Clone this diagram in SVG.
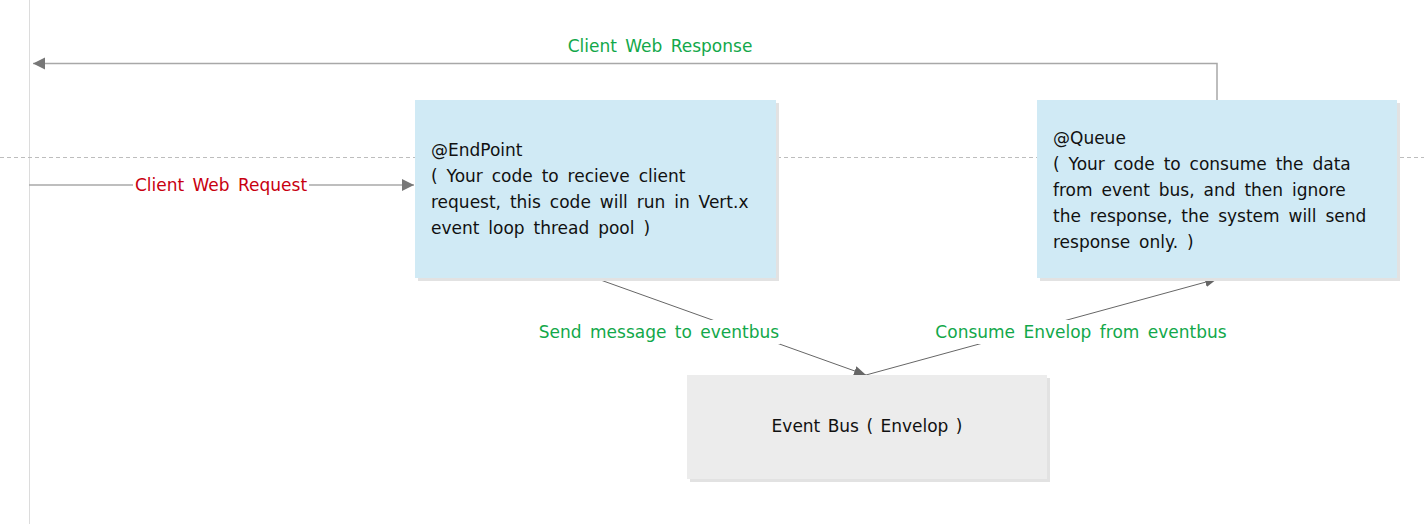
<svg xmlns="http://www.w3.org/2000/svg" width="1424" height="524" viewBox="0 0 1424 524">
<style>
.txt{font-family:"DejaVu Sans","Liberation Sans",sans-serif;font-size:17px;word-spacing:3.5px;fill:#111}
.lbl{font-family:"DejaVu Sans","Liberation Sans",sans-serif;font-size:17px;word-spacing:3px}
.green{fill:#12a84a}
.red{fill:#c8000f}
.blue{fill:#d0eaf5}
.grey{fill:#ececec}
.shadow{fill:#e2e2e2}
.conn{fill:none;stroke:#a8a8a8;stroke-width:1.5}
.diag{fill:none;stroke:#666;stroke-width:1}
</style>
<defs>
<marker id="arr" markerUnits="userSpaceOnUse" markerWidth="14" markerHeight="14" refX="12" refY="6" orient="auto">
<path d="M0,0 L12,6 L0,12 z" fill="#777"/>
</marker>
<marker id="arrs" markerUnits="userSpaceOnUse" markerWidth="14" markerHeight="14" refX="12" refY="5" orient="auto">
<path d="M0,0 L12,5 L0,10 z" fill="#666"/>
</marker>
</defs>
<rect width="1424" height="524" fill="#fff"/>
<line x1="29.5" y1="0" x2="29.5" y2="524" stroke="#dcdcdc" stroke-width="1"/>
<line x1="0" y1="157.5" x2="1424" y2="157.5" stroke="#bdbdbd" stroke-width="1" stroke-dasharray="4 3"/>
<g id="connectors">
<path class="conn" d="M1217,100 V63.5 H33" marker-end="url(#arr)"/>
<path class="conn" d="M29,185 H414" marker-end="url(#arr)"/>
<path class="diag" d="M595,278 L866,375" marker-end="url(#arrs)"/>
<path class="diag" d="M866,375 L1217,279" marker-end="url(#arrs)"/>
<g id="label-response"><text class="lbl green" x="660" y="52" text-anchor="middle">Client Web Response</text></g>
<g id="label-request"><rect x="133" y="174" width="176" height="22" fill="#fff"/><text class="lbl red" x="221" y="191" text-anchor="middle">Client Web Request</text></g>
<g id="label-send"><rect x="538" y="320" width="242" height="24" fill="#fff"/><text class="lbl green" x="659" y="338" text-anchor="middle">Send message to eventbus</text></g>
<g id="label-consume"><rect x="935" y="320" width="293" height="24" fill="#fff"/><text class="lbl green" x="1081" y="338" text-anchor="middle">Consume Envelop from eventbus</text></g>
</g>
<g id="endpoint">
<rect class="shadow" x="418" y="103" width="361" height="178"/>
<rect class="blue" x="415" y="100" width="361" height="178"/>
<text class="txt" x="431" y="156">@EndPoint</text>
<text class="txt" x="431" y="182">( Your code to recieve client</text>
<text class="txt" x="431" y="208">request, this code will run in Vert.x</text>
<text class="txt" x="431" y="234">event loop thread pool )</text>
</g>
<g id="queue">
<rect class="shadow" x="1040" y="103" width="360" height="178"/>
<rect class="blue" x="1037" y="100" width="360" height="178"/>
<text class="txt" x="1053" y="144">@Queue</text>
<text class="txt" x="1053" y="170">( Your code to consume the data</text>
<text class="txt" x="1053" y="196">from event bus, and then ignore</text>
<text class="txt" x="1053" y="222">the response, the system will send</text>
<text class="txt" x="1053" y="248">response only. )</text>
</g>
<g id="eventbus">
<rect class="shadow" x="690" y="378" width="360" height="104"/>
<rect class="grey" x="687" y="375" width="360" height="104"/>
<text class="txt" x="867" y="432" text-anchor="middle" style="word-spacing:2px">Event Bus ( Envelop )</text>
</g>
</svg>
